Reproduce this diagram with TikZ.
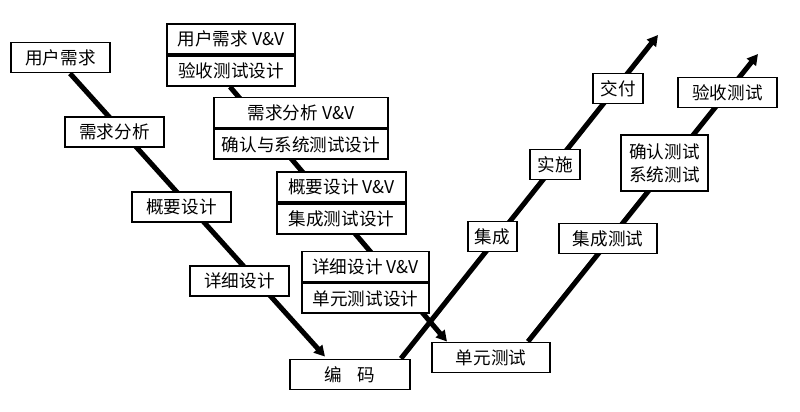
\documentclass[tikz,border=0pt]{standalone}
\usepackage{fontspec}
\newfontfamily\cjk{Noto Sans CJK SC}
\usetikzlibrary{arrows.meta,backgrounds}

\begin{document}
\begin{tikzpicture}[x=0.03cm,y=-0.03cm,
  box/.style={draw,line width=1.6pt,fill=white,inner sep=0pt,minimum height=0.9cm,
    font=\cjk\fontsize{15}{19.5}\selectfont,align=center},
  boxw/.style={minimum width=#1*0.03cm},
  vline/.style={line width=4.3pt,-{Triangle[length=0.32cm,width=0.34cm]}}]
\useasboundingbox (0,0) rectangle (800,411);
% development side
\node[box,boxw=99] (yhxq) at (60.5,57.5) {用户需求};
\node[box,boxw=99] (xqfx) at (114.5,132) {需求分析};
\node[box,boxw=99] (gysj) at (181.5,207) {概要设计};
\node[box,boxw=99] (xxsj) at (239.5,281) {详细设计};
\node[box,boxw=120] (bm) at (350,374.5) {编\hspace{0.9em}码};
\node[box,boxw=118] (dycs) at (491,357.5) {单元测试};
% V&V pairs
\foreach \i/\x/\y/\w/\ta/\tb in {1/231/39/128/用户需求/验收测试设计,
    2/301/112.5/174/需求分析/确认与系统测试设计,
    3/341.5/187/129/概要设计/集成测试设计,
    4/365.5/266.5/127/详细设计/单元测试设计} {
  \node[box,boxw=\w] (vv\i) at (\x,\y) {\ta\ V\&V};
  \node[box,boxw=\w,anchor=north] (sj\i) at (vv\i.south) {\tb};
}
% delivery side
\node[box,boxw=49] (jc) at (492.5,236.5) {集成};
\node[box,boxw=50] (ss) at (555,164.5) {实施};
\node[box,boxw=50] (jf) at (618,88.5) {交付};
\node[box,boxw=98] (jccs) at (608,238.5) {集成测试};
\node[box,boxw=87,minimum height=1.68cm] (qrxt) at (664.5,163) {确认测试\\系统测试};
\node[box,boxw=99] (yscs) at (727.5,92.5) {验收测试};
\coordinate (tip1) at (658,35);
\coordinate (tip2) at (758,54);
\begin{scope}[on background layer]
\draw[vline] ([shift={(9.5,0)}]yhxq.south) -- ([shift={(-25,-2)}]bm.north);
\draw[vline] ([shift={(-1,0)}]sj1.south) -- ([shift={(-44,0)}]dycs.north);
\draw[vline] ([shift={(-10,0)}]bm.north east) -- (tip1);
\draw[vline] ([shift={(37,0)}]dycs.north) -- (tip2);
\end{scope}
\end{tikzpicture}
\end{document}
